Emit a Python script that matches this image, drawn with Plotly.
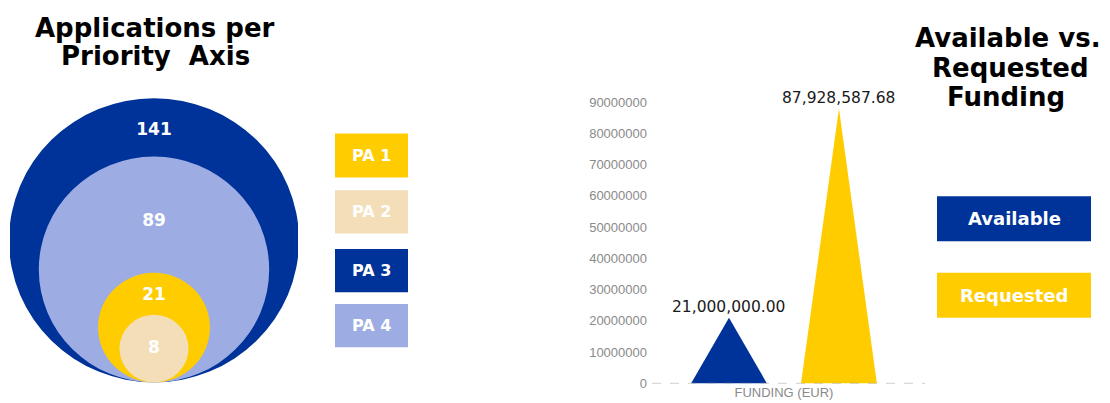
import math
import plotly.graph_objects as go

# ---------------- data ----------------
pa_labels = ["PA 1", "PA 2", "PA 3", "PA 4"]
pa_values = [21, 8, 141, 89]
pa_colors = ["#FFCC00", "#F3DEB8", "#003399", "#9DADE3"]

funding_category = ["FUNDING (EUR)"]
funding_series = ["Available", "Requested"]
funding_values = [21000000.00, 87928587.68]
funding_colors = ["#003399", "#FFCC00"]

# the page shifts the figure 8px to the right
OFFX, OFFY = 8, 0
W, H = 1110 - OFFX, 403 - OFFY

def px_x(p):
    return (p - OFFX) / W

def px_y(p):
    return 1 - (p - OFFY) / H

fig = go.Figure()

# ---------------- nested circles (area ~ value) ----------------
scale = 12.21  # px per sqrt-unit
order = sorted(range(len(pa_values)), key=lambda i: -pa_values[i])
radii = {i: math.sqrt(pa_values[i]) for i in order}
shapes = []
for i in order:
    r = radii[i]
    shapes.append(dict(type="circle", xref="x", yref="y", x0=-r, x1=r, y0=0, y1=2 * r,
                       fillcolor=pa_colors[i], line=dict(width=0), layer="below"))

label_y = []
for k, i in enumerate(order):
    top = 2 * radii[i]
    if k + 1 < len(order):
        inner_top = 2 * radii[order[k + 1]]
        label_y.append(top - 0.56 * (top - inner_top))
    else:
        label_y.append(radii[i])
fig.add_trace(go.Scatter(
    x=[0] * len(order), y=label_y, text=[str(pa_values[i]) for i in order],
    mode="text", textposition="middle center",
    textfont=dict(color="white", size=17, family="DejaVu Sans", weight="bold"),
    hoverinfo="skip", xaxis="x", yaxis="y"))

# ---------------- triangle "bars" ----------------
offsets = [-0.2, 0.2]
half_w = 0.138
for name, v, c, off in zip(funding_series, funding_values, funding_colors, offsets):
    fig.add_trace(go.Scatter(
        x=[off - half_w, off, off + half_w, off - half_w], y=[0, v, 0, 0],
        fill="toself", fillcolor=c, mode="lines", line=dict(width=0, color=c),
        name=name, xaxis="x2", yaxis="y2", hoverinfo="skip"))

annotations = []
for v, off in zip(funding_values, offsets):
    annotations.append(dict(x=off, y=v, xref="x2", yref="y2", text=f"{v:,.2f}",
                            showarrow=False, yanchor="bottom", yshift=0,
                            font=dict(size=15.5, color="#1a1a1a", family="DejaVu Sans")))

# zero dashed line
shapes.append(dict(type="line", xref="x2 domain", yref="y2", x0=0, x1=1, y0=0, y1=0,
                   line=dict(color="#AAAAAA", width=1, dash="dash")))

# ---------------- legend boxes ----------------
pa_box_y = [(128, 173), (186, 230), (246, 290), (302, 346)]
for lab, c, (y0, y1) in zip(pa_labels, pa_colors, pa_box_y):
    shapes.append(dict(type="rect", xref="paper", yref="paper",
                       x0=px_x(335), x1=px_x(408), y0=px_y(y1), y1=px_y(y0),
                       fillcolor=c, line=dict(width=0)))
    annotations.append(dict(x=px_x(371.5), y=px_y((y0 + y1) / 2), xref="paper", yref="paper",
                            text=lab, showarrow=False, xanchor="center", yanchor="middle",
                            font=dict(size=16, color="white", family="DejaVu Sans", weight="bold")))

fund_box_y = [(192, 238), (270, 316)]
for lab, c, (y0, y1) in zip(funding_series, funding_colors, fund_box_y):
    shapes.append(dict(type="rect", xref="paper", yref="paper",
                       x0=px_x(937), x1=px_x(1091), y0=px_y(y1), y1=px_y(y0),
                       fillcolor=c, line=dict(width=0)))
    annotations.append(dict(x=px_x(1014), y=px_y((y0 + y1) / 2), xref="paper", yref="paper",
                            text=lab, showarrow=False, xanchor="center", yanchor="middle",
                            font=dict(size=18, color="white", family="DejaVu Sans", weight="bold")))

# ---------------- titles ----------------
title_font = dict(size=26, color="black", family="DejaVu Sans", weight="bold")
for txt, xc, yc in [("Applications per", 155, 20), ("Priority  Axis", 155, 49),
                    ("Available vs.", 1008, 31), ("Requested", 1010, 61), ("Funding", 1006, 91)]:
    annotations.append(dict(x=px_x(xc), y=px_y(yc), xref="paper", yref="paper", text=txt,
                            showarrow=False, xanchor="center", yanchor="middle", font=title_font))

fig.update_layout(
    width=W, height=H, margin=dict(l=0, r=0, t=0, b=0),
    paper_bgcolor="white", plot_bgcolor="rgba(0,0,0,0)", showlegend=False,
    shapes=shapes, annotations=annotations,
    xaxis=dict(domain=[px_x(10), px_x(298)], range=[-144 / scale, 144 / scale], visible=False),
    yaxis=dict(domain=[px_y(382), px_y(82)], range=[0, 300 / scale], visible=False),
    xaxis2=dict(domain=[px_x(652), px_x(925)], range=[-0.48, 0.513], anchor="y2",
                tickvals=[0], ticktext=funding_category, showgrid=False, zeroline=False,
                showline=False, ticks="",
                tickfont=dict(size=13, color="#8a8a8a", family="Liberation Sans")),
    yaxis2=dict(domain=[px_y(383), px_y(80)], range=[0, 95000000], anchor="x2",
                dtick=10000000, tick0=0, tickformat="d", showgrid=False, zeroline=False,
                showline=False, ticks="", ticklabelstandoff=4,
                tickfont=dict(size=13, color="#8a8a8a", family="Liberation Sans")),
)

fig.write_html("out.html")
